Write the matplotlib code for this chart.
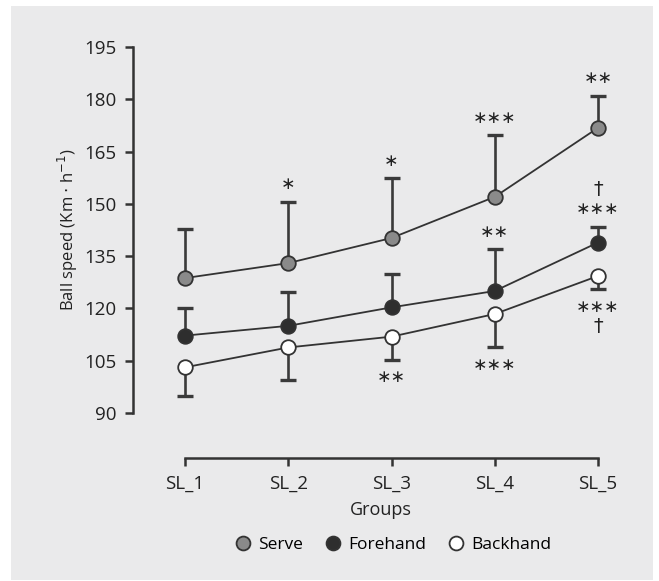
import matplotlib.pyplot as plt
from matplotlib.patches import Rectangle

groups = ['SL_1', 'SL_2', 'SL_3', 'SL_4', 'SL_5']

serve = [128.7, 133.0, 140.2, 152.0, 171.8]
serve_err = [14.1, 17.6, 17.2, 17.7, 9.2]
forehand = [112.2, 115.0, 120.3, 125.0, 138.9]
forehand_err = [7.8, 9.7, 9.5, 12.0, 4.5]
backhand = [103.1, 108.8, 111.9, 118.4, 129.3]
backhand_err = [8.2, 9.3, 6.7, 9.6, 3.8]

serve_sig = ['', '∗', '∗', '∗∗∗', '∗∗']
forehand_sig = ['', '', '', '∗∗', '∗∗∗']
backhand_sig = ['', '', '∗∗', '∗∗∗', '∗∗∗']
serve_dag = ['', '', '', '', '']
forehand_dag = ['', '', '', '', '†']
backhand_dag = ['', '', '', '', '†']

plt.rcParams['font.family'] = ['Open Sans', 'DejaVu Sans']
dark = '#333333'

fig = plt.figure(figsize=(6.59, 5.81), dpi=100, facecolor='white')
bg = Rectangle((11 / 659, 1 - 580 / 581), 642 / 659, 574 / 581,
               transform=fig.transFigure, facecolor='#eaeaeb',
               edgecolor='none', zorder=-10)
fig.add_artist(bg)

ax = fig.add_axes([133 / 659, 1 - 457.7 / 581, 496 / 659, 428.2 / 581])
ax.patch.set_visible(False)

x = list(range(len(groups)))
series = [
    (serve, serve_err, '#8a8a8a', 'Serve', 1, serve_sig, serve_dag),
    (forehand, forehand_err, '#2e2e2e', 'Forehand', 1, forehand_sig, forehand_dag),
    (backhand, backhand_err, 'white', 'Backhand', -1, backhand_sig, backhand_dag),
]

for vals, err, fc, name, side, sig, dag in series:
    ends = [v + side * e for v, e in zip(vals, err)]
    # one-sided error bars with a single cap
    ax.vlines(x, vals, ends, color='#3a3a3a', lw=1.9, zorder=2)
    ax.plot(x, ends, linestyle='none', marker='_', ms=12, mew=2.4,
            color='#3a3a3a', zorder=2)
    ax.plot(x, vals, color=dark, lw=1.3, zorder=3)
    ax.plot(x, vals, 'o', ms=10.5, mfc=fc, mec=dark, mew=1.3, zorder=4,
            label=name, linestyle='none')
    for xi, end, s, d in zip(x, ends, sig, dag):
        if s:
            ax.annotate(s, (xi, end), xytext=(0, side * 12.5),
                        textcoords='offset points', ha='center', va='center',
                        fontsize=12.5, color='#222222', family='DejaVu Sans')
        if d:
            ax.annotate(d, (xi, end), xytext=(0, side * 27),
                        textcoords='offset points', ha='center', va='center',
                        fontsize=14, color='#222222', family='DejaVu Sans')

ax.set_xlim(-0.504, 4.3)
ax.set_ylim(77.18, 200)
ax.set_yticks([90, 105, 120, 135, 150, 165, 180, 195])
ax.set_xticks(x)
ax.set_xticklabels(groups)

for sp in ['top', 'right']:
    ax.spines[sp].set_visible(False)
ax.spines['left'].set_bounds(90, 195)
ax.spines['bottom'].set_bounds(0, 4)
for sp in ['left', 'bottom']:
    ax.spines[sp].set_linewidth(1.8)
    ax.spines[sp].set_color(dark)
ax.tick_params(axis='both', length=6, width=1.8, color=dark,
               labelsize=13.5, labelcolor='#222222', pad=6)

ax.set_xlabel('Groups', fontsize=13, color='#222222', labelpad=6)
ax.set_ylabel('Ball speed (Km $\\cdot$ h$^{-1}$)', fontsize=12, color='#222222',
              labelpad=3)
ax.yaxis.label.set_y(0.532)

handles, labels = ax.get_legend_handles_labels()
fig.legend(handles, labels, loc='center', bbox_to_anchor=(392 / 659, 1 - 545 / 581),
           ncol=3, frameon=False, fontsize=12.5, handletextpad=0.3,
           columnspacing=1.1, handlelength=1.2, markerscale=0.95)

fig.savefig('out.png', dpi=100, facecolor='white')
